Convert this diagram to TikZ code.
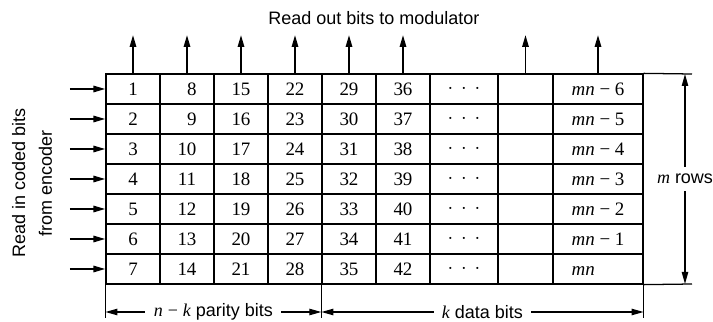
\documentclass[tikz,border=0pt]{standalone}
\usepackage{fontspec}
\setmainfont{Liberation Sans}
\newfontfamily\numfont{Liberation Serif}
\usetikzlibrary{arrows.meta}

\begin{document}
\begin{tikzpicture}[
    line width=0.9pt,
    >={Triangle[length=3mm,width=1.6mm]},
    cell/.style={draw,inner sep=0pt,minimum height=\cellh cm,
        font=\numfont\fontsize{13.5}{16}\selectfont},
    lbl/.style={font=\fontsize{12.8}{19}\selectfont},
    feed/.style={->,line width=1.3pt},
    dimline/.style={<->,line width=0.9pt},
]
    \def\cellh{0.75}
    \def\toprow{5.25}
    \useasboundingbox (-2.65,-0.95) rectangle (15.175,7.1);

    % the m x n array, filled column by column
    \foreach [count=\col] \xl/\w in {0/1.35,1.35/1.35,2.7/1.35,4.05/1.35,5.4/1.35,
                                      6.75/1.35,8.1/1.7,9.8/1.375,11.175/2.25} {
        \foreach \row in {1,...,7} {
            \pgfmathtruncatemacro{\num}{7*(\col-1)+\row}
            \pgfmathtruncatemacro{\back}{7-\row}
            \ifnum\col<7
                \ifnum\num<10 \ifnum\col>1 \def\content{\phantom{0}\num}\else\def\content{\num}\fi
                \else\def\content{\num}\fi
            \else\ifnum\col=7 \def\content{$\cdot\,\cdot\,\cdot$}
            \else\ifnum\col=8 \def\content{}
            \else\ifnum\back=0 \def\content{{\itshape mn}\phantom{ − 0}}
            \else\def\content{{\itshape mn} − \back}\fi
            \fi\fi\fi
            \node[cell,minimum width=\w cm] (c\col-\row)
                at ({\xl+\w/2},{(7.5-\row)*\cellh}) {\content};
        }
    }

    \coordinate (outlevel) at (0,6.225);
    \coordinate (inlevel) at (-0.9,0);
    \coordinate (rtop) at (14.65,\toprow);
    \coordinate (rbot) at (14.65,0);
    \coordinate (tickend) at (0,-0.85);
    \coordinate (dimlevel) at (0,-0.7);
    \coordinate (rowsx) at (14.475,0);

    % read in / read out
    \foreach \row in {1,...,7}
        \draw[feed] (c1-\row.west -| inlevel) -- (c1-\row.west);
    \foreach \col in {1,2,3,4,5,6,8,9}
        \draw[feed] (c\col-1.north) -- (c\col-1.north |- outlevel);

    \node[lbl] (title) at (6.7,6.65) {Read out bits to modulator};
    \node[lbl,rotate=90,align=center] (source) at (-1.85,2.525)
        {Read in coded bits\\from encoder};

    % extension and tick lines
    \draw (c9-1.north east) -- (rtop);
    \draw (c9-7.south east) -- (rbot);
    \draw (c1-7.south west) -- (c1-7.south west |- tickend);
    \draw (c5-7.south west) -- (c5-7.south west |- tickend);
    \draw (c9-7.south east) -- (c9-7.south east |- tickend);

    % dimensions
    \draw[dimline] (c1-7.south west |- dimlevel) --
        node[lbl,fill=white,inner xsep=6pt] (parity)
        {{\numfont\itshape n} {\numfont−} {\numfont\itshape k} parity bits}
        (c5-7.south west |- dimlevel);
    \draw[dimline] (c5-7.south west |- dimlevel) --
        node[lbl,fill=white,inner xsep=6pt] (data)
        {{\numfont\itshape k} data bits}
        (c9-7.south east |- dimlevel);
    \draw[dimline] (rtop -| rowsx) --
        node[lbl,fill=white,inner xsep=0pt,inner ysep=5pt] (rows)
        {{\numfont\itshape m} rows}
        (rbot -| rowsx);
\end{tikzpicture}
\end{document}
